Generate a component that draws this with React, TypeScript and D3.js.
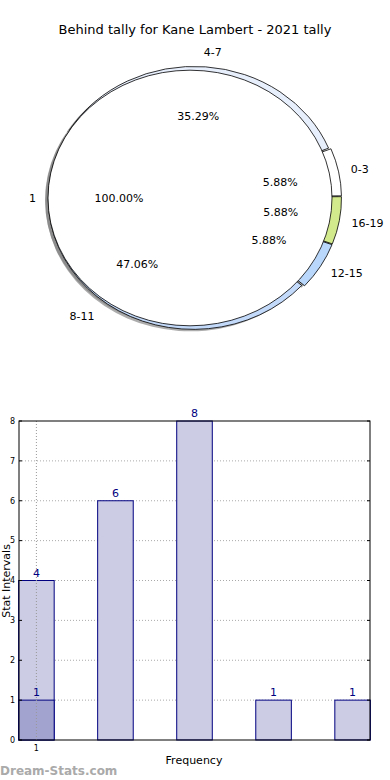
import React from 'react';
import * as d3 from 'd3';

// outer ring: stat intervals
const ringLabels = ['4-7', '0-3', '16-19', '12-15', '8-11'];
const ringValues = [6, 1, 1, 1, 8];
const ringColors = ['#e8effc', '#ffffff', '#d3ea8c', '#b9d7fb', '#c4dafa'];
// inner pie
const innerLabels = ['1'];
const innerValues = [1];

// bar chart
const barValues = [4, 6, 8, 1, 1];
const overlayValues = [1];
const yTicks = [0, 1, 2, 3, 4, 5, 6, 7, 8];
const xTickLabels = ['1'];

const FONT = 'DejaVu Sans, sans-serif';
const deg = Math.PI / 180;

export default function App() {
  const W = 390;
  const H = 780;
  const ky = 0.9;

  const ringC = { x: 194, y: 198 };
  const pieC = { x: 190, y: 198 };
  const rIn = 128;
  const rOut = 145;
  const rPie = 142;

  const total = d3.sum(ringValues);
  const pie = d3.pie<number>().sort(null).startAngle(-59 * deg).endAngle(301 * deg);
  const ringArcs = pie(ringValues);
  const ringArc = d3.arc<d3.PieArcDatum<number>>().innerRadius(rIn).outerRadius(rOut);
  const innerArcs = d3.pie<number>().sort(null).startAngle(90 * deg).endAngle(450 * deg)(innerValues);
  const pieArc = d3.arc<d3.PieArcDatum<number>>().innerRadius(0).outerRadius(rPie);

  // small wedges pushed out a little more than the big ones
  const explode = (v: number) => (v / total < 0.1 ? 2.5 : 1.2);
  const pos = (a: number, r: number, c: { x: number; y: number }) => ({
    x: c.x + Math.sin(a) * r,
    y: c.y - Math.cos(a) * r * ky,
  });

  // bar chart scales
  const left = 19, right = 370, top = 421, bottom = 740;
  const x = d3.scaleLinear().domain([-0.22, 4.22]).range([left, right]);
  const y = d3.scaleLinear().domain([0, 8]).range([bottom, top]);
  const bw = x(0.45) - x(0);
  const navy = '#000080';

  return (
    <svg width={W} height={H} style={{ position: 'absolute', left: 0, top: 0 }} fontFamily={FONT}>
      <rect width={W} height={H} fill="#fff" />
      <text x={195} y={34} textAnchor="middle" fontSize={13}>
        Behind tally for Kane Lambert - 2021 tally
      </text>

      {/* shadows */}
      {ringArcs.map((d, i) => {
        const m = (d.startAngle + d.endAngle) / 2;
        const o = pos(m, explode(d.value), { x: 0, y: 0 });
        return (
          <path
            key={'rs' + i}
            d={ringArc(d) || ''}
            transform={`translate(${ringC.x + o.x - 3},${ringC.y + o.y + 2}) scale(1,${ky})`}
            fill="#777"
            opacity={0.6}
          />
        );
      })}
      {innerArcs.map((d, i) => (
        <path
          key={'ps' + i}
          d={pieArc(d) || ''}
          transform={`translate(${pieC.x - 3},${pieC.y + 2}) scale(1,${ky})`}
          fill="#777"
          opacity={0.6}
        />
      ))}

      {/* ring */}
      {ringArcs.map((d, i) => {
        const m = (d.startAngle + d.endAngle) / 2;
        const o = pos(m, explode(d.value), { x: 0, y: 0 });
        return (
          <path
            key={'r' + i}
            d={ringArc(d) || ''}
            transform={`translate(${ringC.x + o.x},${ringC.y + o.y}) scale(1,${ky})`}
            fill={ringColors[i]}
            stroke="#000"
            strokeWidth={0.8}
            vectorEffect="non-scaling-stroke"
          />
        );
      })}

      {/* inner pie */}
      {innerArcs.map((d, i) => (
        <path
          key={'p' + i}
          d={pieArc(d) || ''}
          transform={`translate(${pieC.x},${pieC.y}) scale(1,${ky})`}
          fill="#fff"
          stroke="#000"
          strokeWidth={0.8}
          vectorEffect="non-scaling-stroke"
        />
      ))}

      {/* ring labels */}
      {ringArcs.map((d, i) => {
        const m = (d.startAngle + d.endAngle) / 2;
        const p = pos(m, 163, { x: 191, y: 198 });
        const q = pos(m, 91, { x: 191, y: 198 });
        return (
          <g key={'rl' + i} fontSize={11}>
            <text x={p.x} y={p.y} dy="0.35em" textAnchor={Math.sin(m) > 0 ? 'start' : 'end'}>
              {ringLabels[i]}
            </text>
            <text x={q.x} y={q.y} dy="0.35em" textAnchor="middle">
              {((ringValues[i] / total) * 100).toFixed(2)}%
            </text>
          </g>
        );
      })}
      {innerArcs.map((d, i) => {
        const m = (d.startAngle + d.endAngle) / 2;
        const p = pos(m, 154, pieC);
        const q = pos(m, 71, pieC);
        return (
          <g key={'il' + i} fontSize={11}>
            <text x={p.x} y={p.y} dy="0.35em" textAnchor="end">{innerLabels[i]}</text>
            <text x={q.x} y={q.y} dy="0.35em" textAnchor="middle">
              {((innerValues[i] / d3.sum(innerValues)) * 100).toFixed(2)}%
            </text>
          </g>
        );
      })}

      {/* bar chart */}
      {yTicks.slice(1, -1).map((t) => (
        <line key={'g' + t} x1={left} x2={right} y1={y(t)} y2={y(t)} stroke="#aaa" strokeWidth={1} strokeDasharray="1,2" />
      ))}
      {barValues.map((v, i) => (
        <rect
          key={'b' + i}
          x={x(i) - bw / 2}
          y={y(v)}
          width={bw}
          height={y(0) - y(v)}
          fill="#ccccE4"
          stroke={navy}
          strokeWidth={1}
        />
      ))}
      {overlayValues.map((v, i) => (
        <rect
          key={'o' + i}
          x={x(i) - bw / 2}
          y={y(v)}
          width={bw}
          height={y(0) - y(v)}
          fill="#a3a3cf"
          stroke={navy}
          strokeWidth={1}
        />
      ))}
      {xTickLabels.map((_, i) => (
        <line key={'vg' + i} x1={x(i)} x2={x(i)} y1={top} y2={bottom} stroke="#999" strokeWidth={1} strokeDasharray="1,2" />
      ))}
      {barValues.map((v, i) => (
        <text key={'bl' + i} x={x(i)} y={y(v) - 4} textAnchor="middle" fontSize={11} fill={navy}>
          {v}
        </text>
      ))}
      {overlayValues.map((v, i) => (
        <text key={'ol' + i} x={x(i)} y={y(v) - 4} textAnchor="middle" fontSize={11} fill={navy}>
          {v}
        </text>
      ))}
      <rect x={left} y={top} width={right - left} height={bottom - top} fill="none" stroke="#000" strokeWidth={1} />
      {yTicks.map((t) => (
        <g key={'yt' + t}>
          <line x1={left} x2={left + 3} y1={y(t)} y2={y(t)} stroke="#000" />
          <line x1={right - 3} x2={right} y1={y(t)} y2={y(t)} stroke="#000" />
          <text x={left - 4} y={y(t)} dy="0.35em" textAnchor="end" fontSize={8}>{t}</text>
        </g>
      ))}
      {xTickLabels.map((l, i) => (
        <text key={'xt' + i} x={x(i)} y={bottom + 11} textAnchor="middle" fontSize={8}>{l}</text>
      ))}
      <text x={194} y={764} textAnchor="middle" fontSize={11}>Frequency</text>
      <text transform={`translate(9.5,581) rotate(-90)`} textAnchor="middle" fontSize={11}>Stat Intervals</text>
      <text x={0} y={775} fontSize={12} fontWeight="bold" fill="#aaa">Dream-Stats.com</text>
    </svg>
  );
}
